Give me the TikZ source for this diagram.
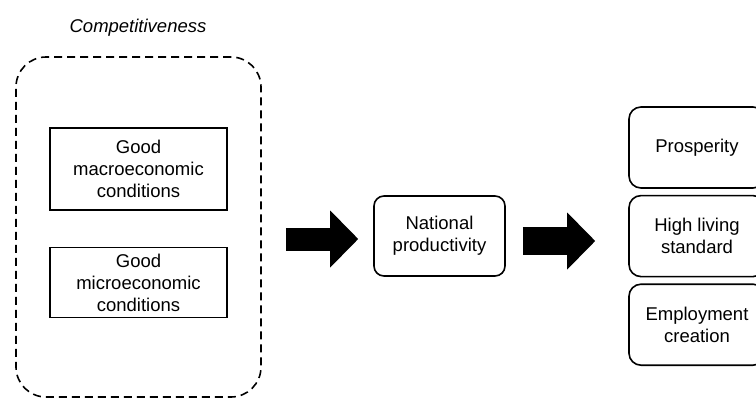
\documentclass[tikz,border=0pt]{standalone}
\usepackage{fontspec}
\setmainfont{Liberation Sans}
\usetikzlibrary{positioning}
\usetikzlibrary{arrows.meta}

\begin{document}
\begin{tikzpicture}[x=1pt,y=-1pt,
                    every node/.style={font=\fontsize{18.5}{22}\selectfont,align=center,inner sep=0pt},
                    cond/.style={draw,line width=1.6pt,minimum width=177pt},
                    result/.style={draw,line width=1.6pt,rounded corners=12pt,
                                   minimum width=136pt,minimum height=81pt},
                    fat/.style={line width=#1,
                                -{Triangle[length=28pt,width=57pt,line width=0pt]}}]
  \useasboundingbox (0,0) rectangle (756,400);
  \clip (0,0) rectangle (756,400);

  % competitiveness group
  \node[draw,dashed,dash pattern=on 8pt off 5pt,line width=1.6pt,rounded corners=30pt,
        minimum width=245pt,minimum height=340pt] (comp) at (138.5,227) {};
  \node[font=\fontsize{18.5}{22}\selectfont\itshape] (title) at (138,28) {Competitiveness};

  \node[cond,minimum height=82pt] (macro) at (138.5,169) {Good\\macroeconomic\\conditions};
  \node[cond,minimum height=70pt] (micro) [below=36pt of macro] {Good\\microeconomic\\conditions};

  \node[draw,line width=1.6pt,rounded corners=10pt,minimum width=131pt,minimum height=80pt]
        (nat) at (439.5,236) {National\\productivity};

  % outcomes
  \node[result] (prosper) at (697,147.5) {Prosperity};
  \node[result] (living) [below=6pt of prosper] {High living\\standard};
  \node[result] (employ) [below=6pt of living] {Employment\\creation};

  \draw[fat=23pt,shorten <=24pt,shorten >=15pt]
        ([yshift=-3pt]comp.east |- nat.west) -- ([yshift=-3pt]nat.west);
  \draw[fat=28pt,shorten <=17pt,shorten >=33pt]
        ([yshift=-5pt]nat.east) -- ([yshift=-5pt]nat.east -| living.west);

\end{tikzpicture}
\end{document}
